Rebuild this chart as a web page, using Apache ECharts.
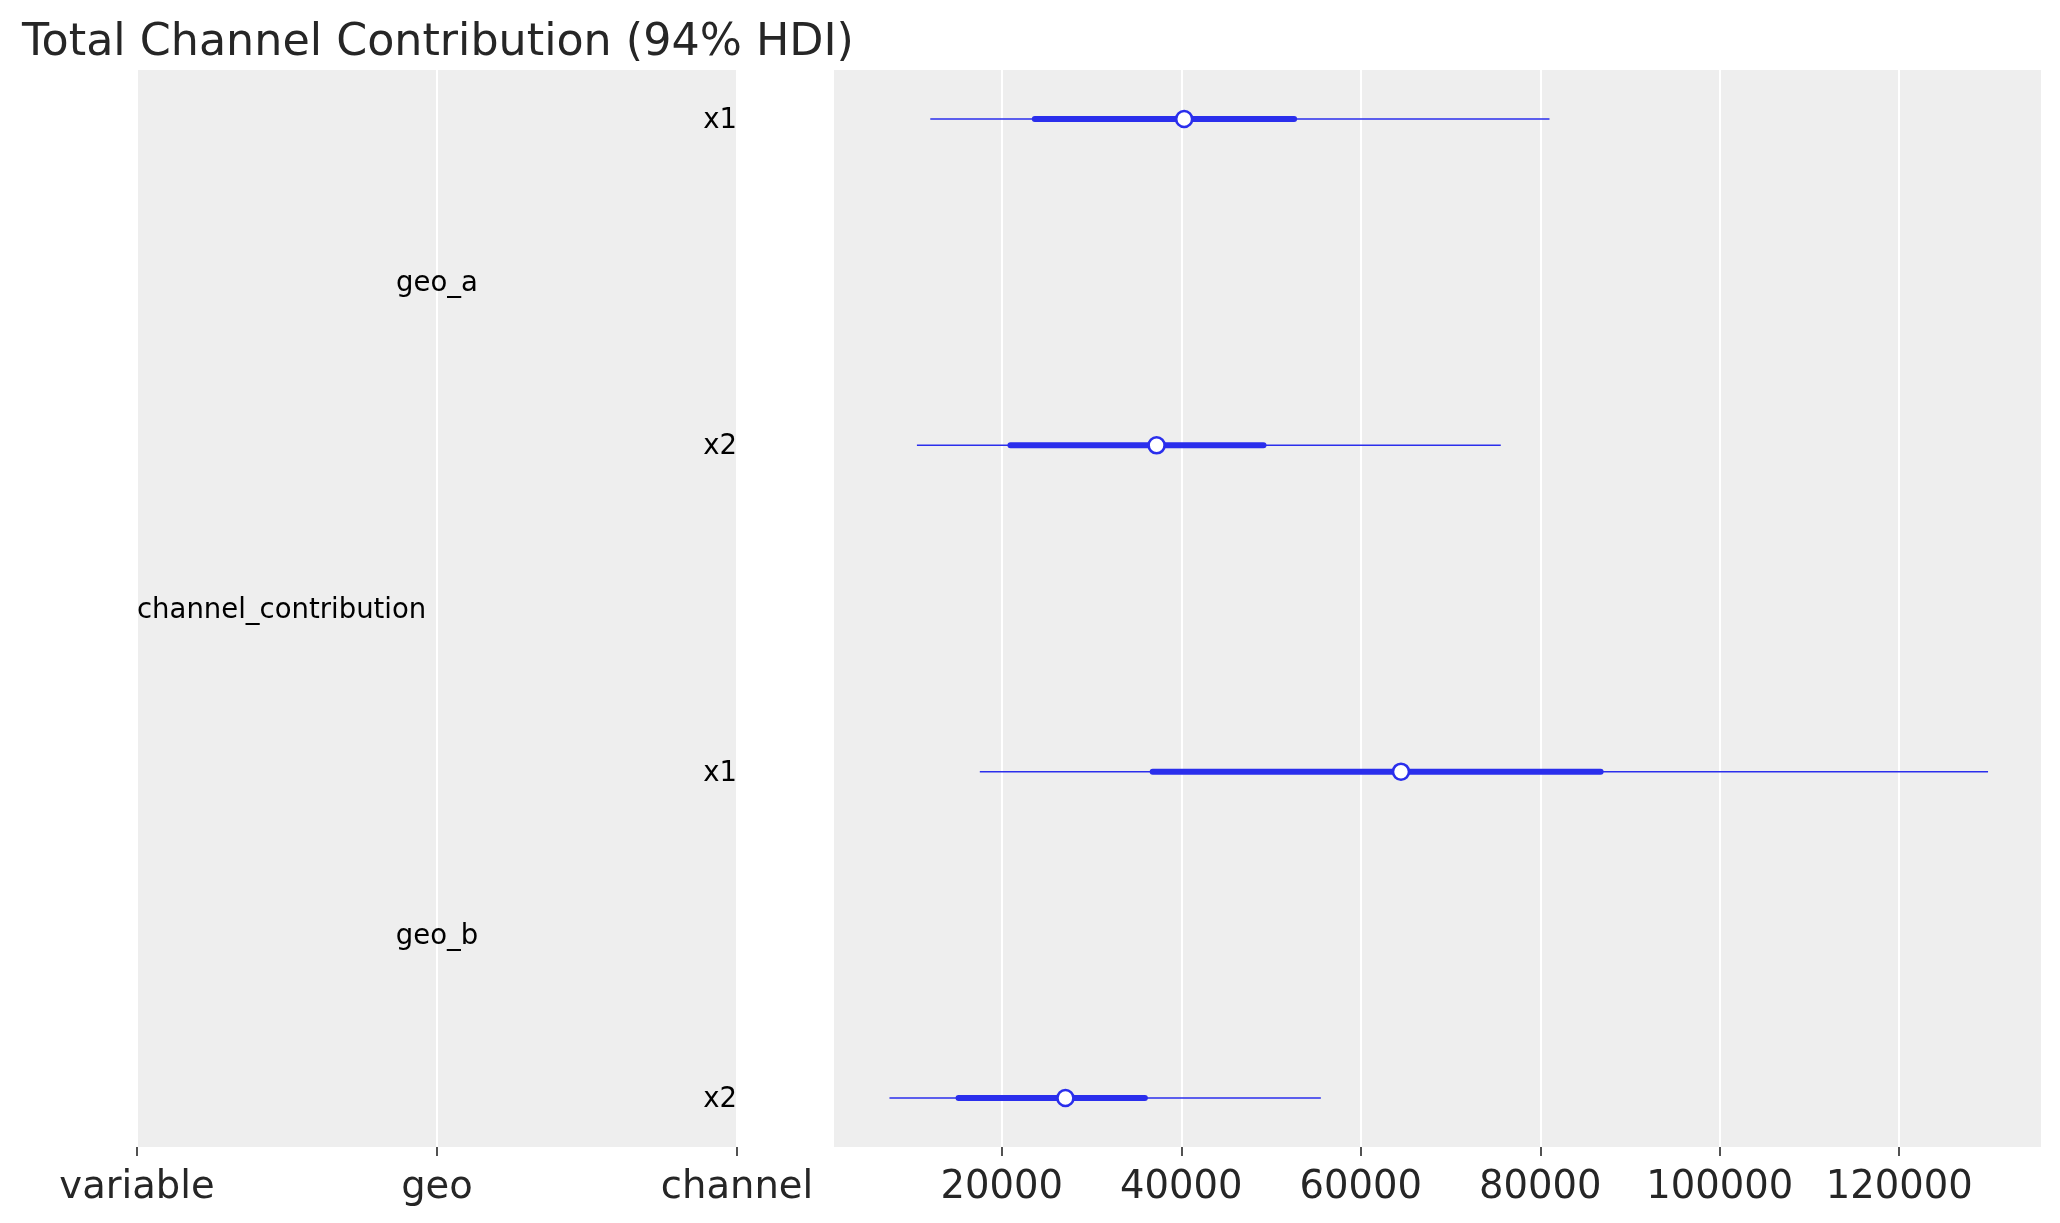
<!DOCTYPE html>
<html>
<head>
<meta charset="utf-8">
<title>Total Channel Contribution (94% HDI)</title>
<script src="https://cdn.jsdelivr.net/npm/echarts@6/dist/echarts.min.js"></script>
<style>
    html, body { margin: 0; padding: 0; background: #ffffff; }
    #chart { width: 2060px; height: 1223px; }
</style>
</head>
<body>
<div id="chart"></div>
<script>
// forest plot rows, top to bottom
const variableName = 'channel_contribution';
const rowGeo = ['geo_a', 'geo_a', 'geo_b', 'geo_b'];
const rowChannel = ['x1', 'x2', 'x1', 'x2'];

// 94% HDI (thin line), inner interval (thick line), median (circle)
const hdiLow = [12030, 10540, 17550, 7480];
const hdiHigh = [81030, 75600, 129900, 55550];
const innerLow = [23680, 20960, 36810, 15180];
const innerHigh = [52570, 49160, 86730, 35940];
const medians = [40320, 37250, 64480, 27090];

// tick labels
const labelTicks = ['variable', 'geo', 'channel'];
const valueTicks = [20000, 40000, 60000, 80000, 100000, 120000];

const FONT = 'DejaVu Sans';
const BLUE = '#2a2eec';
const TEXT = '#262626';

function initForestChart() {
    const chart = echarts.init(document.getElementById('chart'));

    // text cells of the label panel: variable / geo / channel columns
    const leftCells = [];
    leftCells.push({ x: 0, y: (rowGeo.length - 1) / 2, text: variableName, align: 'left' });
    const geoNames = rowGeo.filter(function (g, i) { return rowGeo.indexOf(g) === i; });
    geoNames.forEach(function (g) {
        const idx = [];
        rowGeo.forEach(function (r, i) { if (r === g) idx.push(i); });
        const mid = idx.reduce(function (a, b) { return a + b; }, 0) / idx.length;
        leftCells.push({ x: 1, y: mid, text: g, align: 'center' });
    });
    rowChannel.forEach(function (c, i) {
        leftCells.push({ x: 2, y: i, text: c, align: 'right' });
    });

    const rows = rowChannel.map(function (c, i) {
        return [i, hdiLow[i], hdiHigh[i], innerLow[i], innerHigh[i], medians[i]];
    });

    const tickStyle = { show: true, length: 9, lineStyle: { color: TEXT, width: 1.6 } };
    const labelStyle = { color: TEXT, fontSize: 38.5, fontFamily: FONT, margin: 21 };

    const option = {
        backgroundColor: '#ffffff',
        animation: false,
        title: {
            text: 'Total Channel Contribution (94% HDI)',
            left: 17,
            top: 16,
            textStyle: { color: TEXT, fontSize: 44.4, fontWeight: 'normal', fontFamily: FONT }
        },
        grid: [
            { left: 137, right: 1323, top: 70, bottom: 76, show: true, backgroundColor: '#eeeeee', borderWidth: 0 },
            { left: 834, right: 19, top: 70, bottom: 76, show: true, backgroundColor: '#eeeeee', borderWidth: 0 }
        ],
        xAxis: [
            {
                gridIndex: 0,
                type: 'value',
                position: 'bottom',
                min: 0,
                max: labelTicks.length - 1,
                interval: 1,
                axisLine: { show: false, onZero: false },
                axisTick: tickStyle,
                axisLabel: Object.assign({}, labelStyle, {
                    formatter: function (v) { return labelTicks[v] || ''; }
                }),
                splitLine: { show: true, lineStyle: { color: '#ffffff', width: 2 } }
            },
            {
                gridIndex: 1,
                type: 'value',
                position: 'bottom',
                min: 1300,
                max: 135800,
                splitNumber: 7,
                axisLine: { show: false, onZero: false },
                axisTick: Object.assign({}, tickStyle, { customValues: valueTicks }),
                axisLabel: Object.assign({}, labelStyle, {
                    customValues: valueTicks,
                    formatter: function (v) { return String(v); }
                }),
                splitLine: { show: true, lineStyle: { color: '#ffffff', width: 2 } }
            }
        ],
        yAxis: [0, 1].map(function (g) {
            return {
                gridIndex: g,
                type: 'value',
                inverse: true,
                min: -0.15,
                max: rowChannel.length - 1 + 0.15,
                axisLine: { show: false, onZero: false },
                axisTick: { show: false },
                axisLabel: { show: false },
                splitLine: { show: false }
            };
        }),
        series: [
            {
                name: 'labels',
                type: 'custom',
                xAxisIndex: 0,
                yAxisIndex: 0,
                data: leftCells.map(function (c) { return [c.x, c.y]; }),
                renderItem: function (params, api) {
                    const cell = leftCells[params.dataIndex];
                    const pt = api.coord([api.value(0), api.value(1)]);
                    return {
                        type: 'text',
                        x: pt[0],
                        y: pt[1] + 2,
                        style: {
                            text: cell.text,
                            fill: '#000000',
                            font: '27.5px "' + FONT + '"',
                            align: cell.align,
                            verticalAlign: 'middle'
                        }
                    };
                }
            },
            {
                name: 'channel_contribution',
                type: 'custom',
                xAxisIndex: 1,
                yAxisIndex: 1,
                encode: { x: [1, 2, 3, 4, 5], y: 0 },
                data: rows,
                renderItem: function (params, api) {
                    const y = api.value(0);
                    const a = api.coord([api.value(1), y]);
                    const b = api.coord([api.value(2), y]);
                    const c = api.coord([api.value(3), y]);
                    const d = api.coord([api.value(4), y]);
                    const m = api.coord([api.value(5), y]);
                    return {
                        type: 'group',
                        children: [
                            {
                                type: 'line',
                                shape: { x1: a[0], y1: a[1], x2: b[0], y2: b[1] },
                                style: { stroke: BLUE, lineWidth: 1.6 }
                            },
                            {
                                type: 'line',
                                shape: { x1: c[0], y1: c[1], x2: d[0], y2: d[1] },
                                style: { stroke: BLUE, lineWidth: 6, lineCap: 'round' }
                            },
                            {
                                type: 'circle',
                                shape: { cx: m[0], cy: m[1], r: 8 },
                                style: { fill: '#ffffff', stroke: BLUE, lineWidth: 2.6 }
                            }
                        ]
                    };
                }
            }
        ]
    };

    chart.setOption(option);
    return chart;
}

document.addEventListener('DOMContentLoaded', function () {
    if (typeof echarts !== 'undefined') {
        initForestChart();
    } else {
        console.error('ECharts library not loaded');
    }
});
</script>
</body>
</html>
